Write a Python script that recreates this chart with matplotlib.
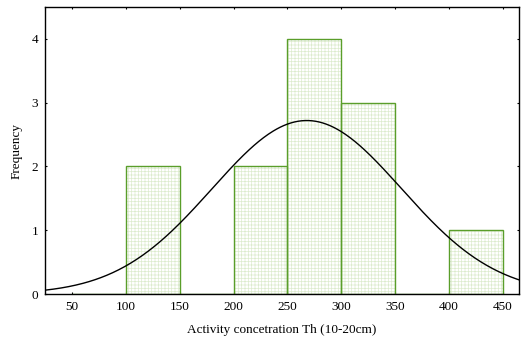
import numpy as np
import matplotlib
matplotlib.use("Agg")
import matplotlib.pyplot as plt

bin_edges = [50, 100, 150, 200, 250, 300, 350, 400, 450]
counts = [0, 2, 0, 2, 4, 3, 0, 1]
fit_mean = 268
fit_sd = 88
n_obs = 12

plt.rcParams['font.family'] = ['Liberation Serif', 'DejaVu Serif']
plt.rcParams['hatch.linewidth'] = 0.5

fig = plt.figure(figsize=(5.22, 3.41), dpi=100)
ax = fig.add_axes([0.0862, 0.1378, 0.9081, 0.8417])

lefts = bin_edges[:-1]
widths = np.diff(bin_edges)
ax.bar(lefts, counts, width=widths, align='edge', facecolor='white',
       edgecolor='#dcebcd', linewidth=0, hatch='+++++', zorder=1)
ax.bar(lefts, counts, width=widths, align='edge', fill=False,
       edgecolor='#5a9e2a', linewidth=1.0, zorder=2)

xs = np.linspace(25, 465, 400)
bw = widths[0]
ys = n_obs * bw / (fit_sd * np.sqrt(2 * np.pi)) * np.exp(-0.5 * ((xs - fit_mean) / fit_sd) ** 2)
ax.plot(xs, ys, color='black', linewidth=1.0, zorder=3)

ax.set_xlim(25, 465)
ax.set_ylim(0, 4.5)
ax.set_xticks([50, 100, 150, 200, 250, 300, 350, 400, 450])
ax.set_yticks([0, 1, 2, 3, 4])
ax.tick_params(direction='in', length=1.5, labelsize=9.5, top=True, right=True, pad=5)
ax.set_xlabel('Activity concetration Th (10-20cm)', fontsize=9.5, labelpad=8)
ax.set_ylabel('Frequency', fontsize=9.5, labelpad=6)
for s in ax.spines.values():
    s.set_linewidth(1.0)

fig.savefig('out.png', dpi=100)
